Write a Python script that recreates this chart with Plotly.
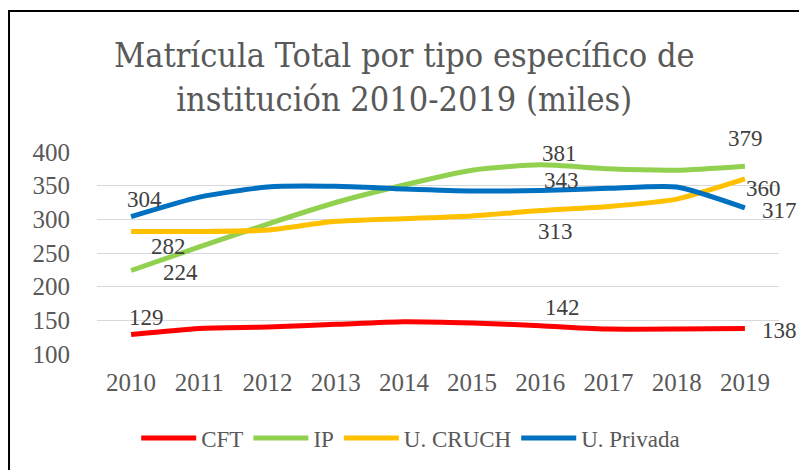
import plotly.graph_objects as go

years = [2010, 2011, 2012, 2013, 2014, 2015, 2016, 2017, 2018, 2019]

cft = [129, 138, 140, 144, 148, 146, 142, 137, 137, 138]
ip = [224, 259, 293, 325, 351, 373, 381, 375, 373, 379]
u_cruch = [282, 282, 284, 297, 301, 305, 313, 319, 330, 360]
u_privada = [304, 333, 348, 349, 345, 342, 343, 346, 348, 317]

series = [
    ("CFT", cft, "#FF0000"),
    ("IP", ip, "#92D050"),
    ("U. CRUCH", u_cruch, "#FFC000"),
    ("U. Privada", u_privada, "#0070C0"),
]

# which points get a value label: (index, xshift, yshift)
label_spots = {
    "CFT": [(0, 15, 17), (6, 22, 18), (9, 35, -2)],
    "IP": [(0, 49, -2), (6, 19, 11), (9, 1, 28)],
    "U. CRUCH": [(0, 37, -15), (6, 15, -21), (9, 19, -10)],
    "U. Privada": [(0, 13, 17), (6, 21, 10), (9, 35, -3)],
}

SERIF = "Liberation Serif"
GRAY = "#595959"

fig = go.Figure()
for name, vals, color in series:
    fig.add_trace(go.Scatter(
        x=years, y=vals, name=name, mode="lines",
        line=dict(color=color, width=5, shape="spline", smoothing=0.6),
    ))
    for idx, dx, dy in label_spots[name]:
        fig.add_annotation(
            x=years[idx], y=vals[idx], text=str(vals[idx]), showarrow=False,
            xshift=dx, yshift=dy, font=dict(family=SERIF, size=23, color="#404040"),
        )

# chart border
fig.add_shape(type="rect", xref="paper", yref="paper",
              x0=-0.129, x1=1.1, y0=-0.7, y1=1.698,
              line=dict(color="black", width=2), layer="below")

fig.update_xaxes(
    range=[2009.5, 2019.5], tickvals=years, ticktext=[str(y) for y in years],
    showgrid=False, zeroline=False, showline=False, ticks="", tickangle=0,
    tickfont=dict(family=SERIF, size=25, color=GRAY), ticklabelstandoff=11,
)
fig.update_yaxes(
    range=[100, 400], dtick=50, showgrid=True, gridcolor="#D9D9D9", gridwidth=1,
    zeroline=False, showline=False, ticks="",
    tickfont=dict(family=SERIF, size=25, color=GRAY), ticklabelstandoff=26,
)
fig.update_layout(
    width=799, height=462,
    margin=dict(l=89, r=28, t=144, b=116, autoexpand=False),
    paper_bgcolor="white", plot_bgcolor="white",
    title=dict(text="Matrícula Total por tipo específico de<br>institución 2010-2019 (miles)",
               x=0.496, xanchor="center", y=0.873, yanchor="middle",
               font=dict(family="DejaVu Serif Condensed, Liberation Serif", size=34, color=GRAY)),
    legend=dict(orientation="h", x=0.46, xanchor="center",
                y=-0.416, yanchor="middle", itemwidth=55,
                font=dict(family=SERIF, size=23, color=GRAY)),
    showlegend=True,
)

fig.write_html("out.html")
